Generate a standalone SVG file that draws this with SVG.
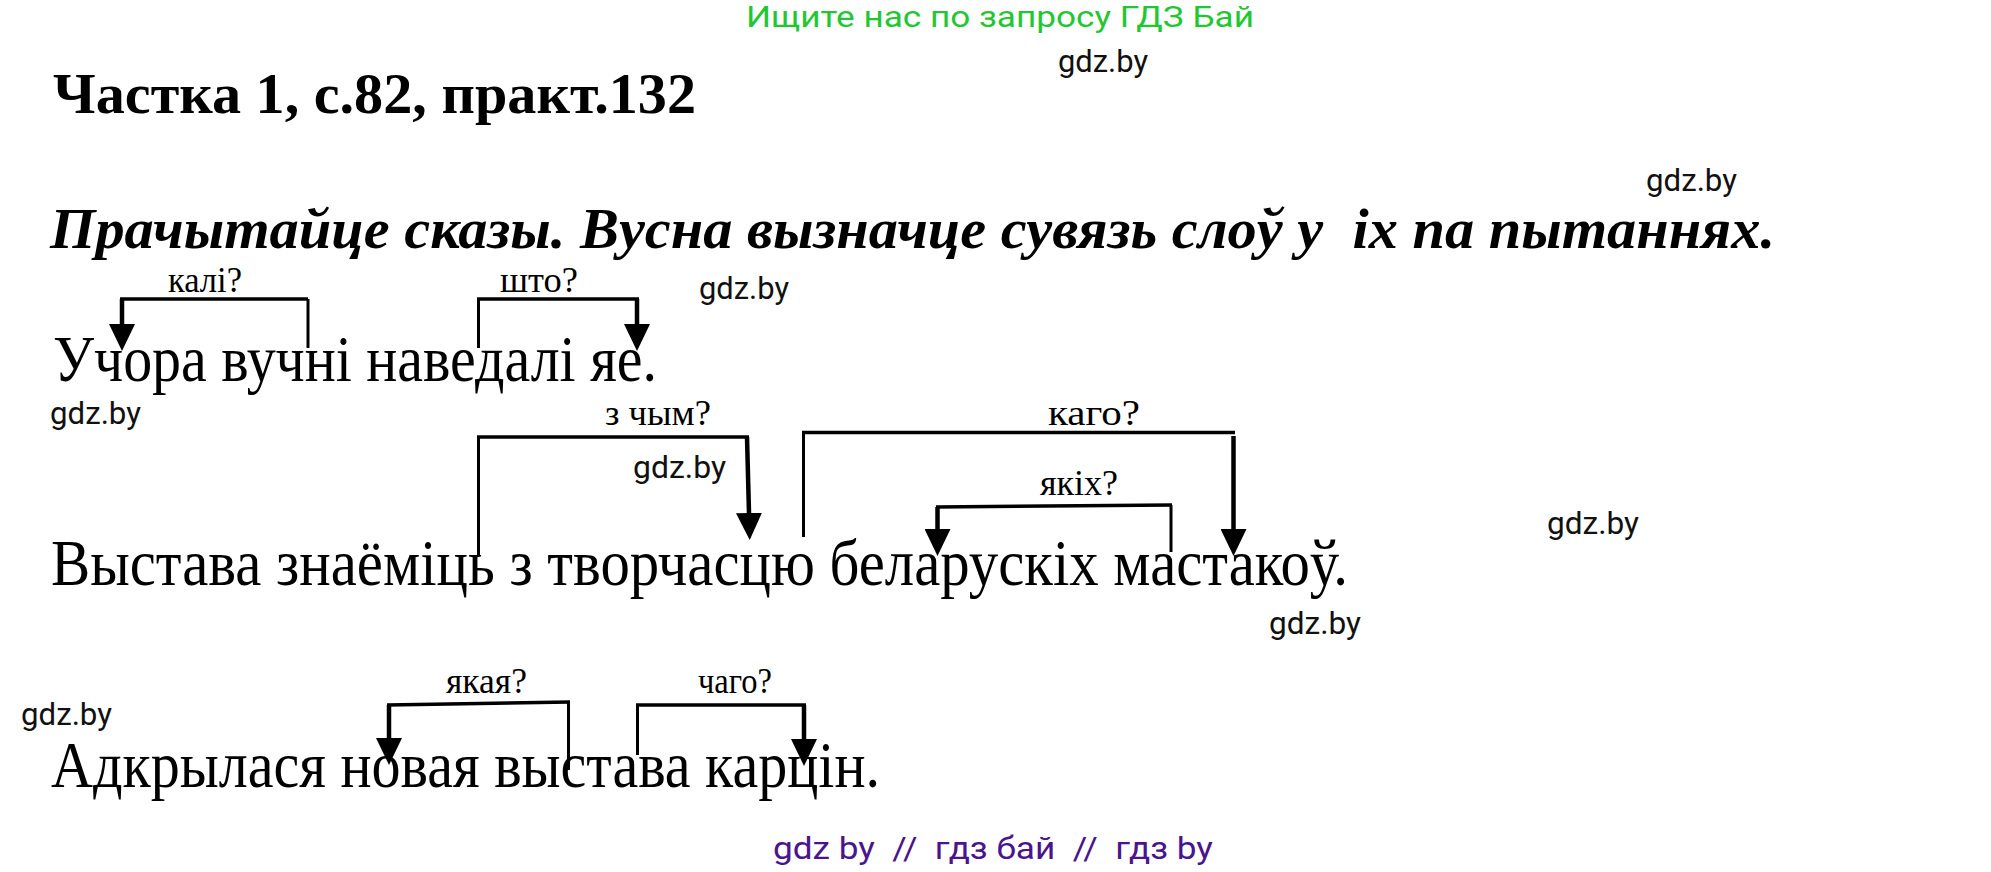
<svg xmlns="http://www.w3.org/2000/svg" width="1991" height="872" viewBox="0 0 1991 872">
  <style>
    .bg { fill: #ffffff; }
    .wm { font-family: Roboto, "Liberation Sans", sans-serif; font-size: 31px; fill: #111111; }
    .hdr { font-family: Roboto, "Liberation Sans", sans-serif; font-size: 30px; fill: #1fc832; }
    .ftr { font-family: Roboto, "Liberation Sans", sans-serif; font-size: 31px; fill: #4a148c; }
    .title { font-family: "Liberation Serif", "Times New Roman", serif; font-size: 58px; font-weight: bold; fill: #000; }
    .task { font-family: "Liberation Serif", "Times New Roman", serif; font-size: 58px; font-weight: bold; font-style: italic; fill: #000; }
    .sent { font-family: "Liberation Serif", "Times New Roman", serif; font-size: 66px; fill: #000; }
    .q { font-family: "Liberation Serif", "Times New Roman", serif; font-size: 35px; fill: #000; }
    .h { stroke: #000; stroke-width: 3.5; fill: none; }
    .thin { stroke: #000; stroke-width: 3; fill: none; }
    .shaft { stroke: #000; stroke-width: 4.5; fill: none; marker-end: url(#ah); }
  </style>
  <defs>
    <marker id="ah" markerUnits="userSpaceOnUse" markerWidth="27" markerHeight="26" viewBox="0 0 27 26" refX="0" refY="13" orient="auto">
      <path d="M0,0 L27,13 L0,26 Z" fill="#000"/>
    </marker>
  </defs>
  <rect class="bg" x="0" y="0" width="1991" height="872"/>

  <g id="header">
    <text class="hdr" x="746" y="27" textLength="508" lengthAdjust="spacingAndGlyphs">Ищите нас по запросу ГДЗ Бай</text>
  </g>

  <g id="watermarks">
    <text class="wm" x="1058" y="72" textLength="90" lengthAdjust="spacingAndGlyphs">gdz.by</text>
    <text class="wm" x="1646" y="191" textLength="91" lengthAdjust="spacingAndGlyphs">gdz.by</text>
    <text class="wm" x="699" y="299" textLength="90" lengthAdjust="spacingAndGlyphs">gdz.by</text>
    <text class="wm" x="50" y="424" textLength="91" lengthAdjust="spacingAndGlyphs">gdz.by</text>
    <text class="wm" x="633" y="478" textLength="93" lengthAdjust="spacingAndGlyphs">gdz.by</text>
    <text class="wm" x="1547" y="534" textLength="92" lengthAdjust="spacingAndGlyphs">gdz.by</text>
    <text class="wm" x="1269" y="634" textLength="92" lengthAdjust="spacingAndGlyphs">gdz.by</text>
    <text class="wm" x="21" y="725" textLength="91" lengthAdjust="spacingAndGlyphs">gdz.by</text>
  </g>

  <g id="title">
    <text class="title" x="53" y="113" textLength="643" lengthAdjust="spacingAndGlyphs">Частка 1, с.82, практ.132</text>
  </g>

  <g id="task">
    <text class="task" x="50" y="248" textLength="1725" lengthAdjust="spacingAndGlyphs" xml:space="preserve">Прачытайце сказы. Вусна вызначце сувязь слоў у  іх па пытаннях.</text>
  </g>

  <g id="sentence1">
    <text class="sent" x="53" y="381" textLength="604" lengthAdjust="spacingAndGlyphs">Учора вучні наведалі яе.</text>
  </g>
  <g id="sentence2">
    <text class="sent" x="51" y="585" textLength="1297" lengthAdjust="spacingAndGlyphs">Выстава знаёміць з творчасцю беларускіх мастакоў.</text>
  </g>
  <g id="sentence3">
    <text class="sent" x="51" y="787" textLength="829" lengthAdjust="spacingAndGlyphs">Адкрылася новая выстава карцін.</text>
  </g>

  <g id="labels">
    <text class="q" x="168" y="292" textLength="74" lengthAdjust="spacingAndGlyphs">калі?</text>
    <text class="q" x="500" y="292" textLength="78" lengthAdjust="spacingAndGlyphs">што?</text>
    <text class="q" x="605" y="425" textLength="106" lengthAdjust="spacingAndGlyphs">з чым?</text>
    <text class="q" x="1048" y="425" textLength="92" lengthAdjust="spacingAndGlyphs">каго?</text>
    <text class="q" x="1040" y="495" textLength="78" lengthAdjust="spacingAndGlyphs">якіх?</text>
    <text class="q" x="446" y="693" textLength="81" lengthAdjust="spacingAndGlyphs">якая?</text>
    <text class="q" x="698" y="693" textLength="74" lengthAdjust="spacingAndGlyphs">чаго?</text>
  </g>

  <g id="connectors">
    <!-- калі? -->
    <line class="thin" x1="308" y1="299" x2="308" y2="348"/>
    <line class="h" x1="308" y1="299" x2="120" y2="299"/>
    <path class="shaft" d="M122,299 V324"/>
    <!-- што? -->
    <line class="thin" x1="478.5" y1="299" x2="478.5" y2="348"/>
    <line class="h" x1="477" y1="299" x2="639" y2="299"/>
    <path class="shaft" d="M637,299 V324"/>
    <!-- з чым? -->
    <line class="thin" x1="478.5" y1="437" x2="478.5" y2="555"/>
    <line class="h" x1="477" y1="437" x2="749" y2="437"/>
    <path class="shaft" d="M747,437 L749,513"/>
    <!-- каго? -->
    <line class="thin" x1="803.5" y1="432.5" x2="803.5" y2="537"/>
    <line class="h" x1="802" y1="432.5" x2="1235" y2="432.5"/>
    <path class="shaft" d="M1233.5,436 V529"/>
    <!-- якіх? -->
    <line class="thin" x1="1171" y1="505" x2="1171" y2="552"/>
    <line class="h" x1="1172" y1="505" x2="936" y2="507"/>
    <path class="shaft" d="M937.5,507 V529"/>
    <!-- якая? -->
    <line class="thin" x1="568.5" y1="702" x2="568.5" y2="770"/>
    <line class="h" x1="570" y1="702" x2="387" y2="705"/>
    <path class="shaft" d="M389,705 V738"/>
    <!-- чаго? -->
    <line class="thin" x1="637.5" y1="705" x2="637.5" y2="755"/>
    <line class="h" x1="636" y1="705" x2="806" y2="705"/>
    <path class="shaft" d="M804,705 V739"/>
  </g>

  <g id="footer">
    <text class="ftr" x="773" y="859" textLength="440" lengthAdjust="spacingAndGlyphs" xml:space="preserve">gdz by  //  гдз бай  //  гдз by</text>
  </g>
</svg>
